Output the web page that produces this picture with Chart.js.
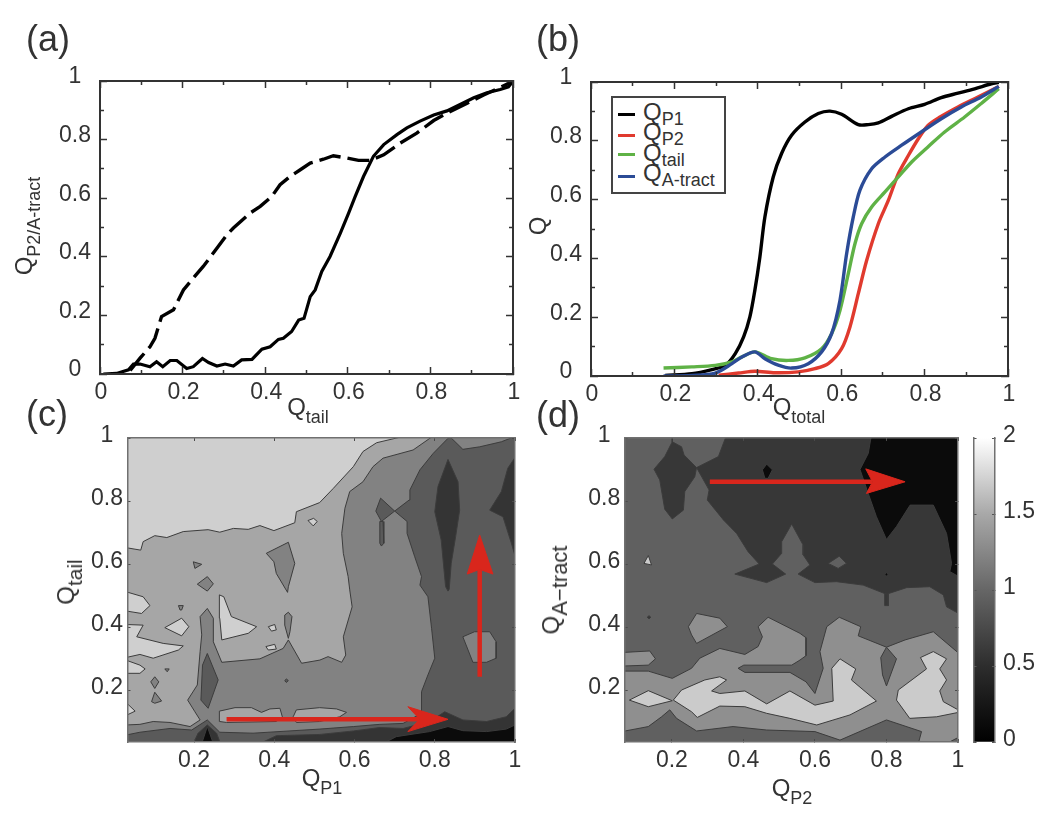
<!DOCTYPE html>
<html>
<head>
<meta charset="utf-8">
<title>Contact order plots</title>
<script src="https://cdn.jsdelivr.net/npm/chart.js@4"></script>
<style>
  html, body { margin: 0; padding: 0; background: #fff; }
  #page { position: relative; width: 1050px; height: 819px; overflow: hidden; font-family: "Liberation Sans", sans-serif; color: #333; filter: blur(0.5px); }
  canvas { position: absolute; left: 0; top: 0; }
  .t { position: absolute; transform: translate(-50%, -50%); font-size: 24px; line-height: 1; white-space: nowrap; }
  .rot { transform: translate(-50%, -50%) rotate(-90deg); }
  .t sub { font-size: 18px; line-height: 0; vertical-align: -8px; }
  .t sub.wide { font-size: 22px; }
  .t sub.mid { font-size: 21px; }
  .panel { position: absolute; font-size: 36px; line-height: 1; }
  #legend { position: absolute; left: 611px; top: 96px; width: 111px; height: 94px; border: 2px solid #444; background: #fff; }
  #legend .t { transform: none; left: 30px; }
  #legend sub { vertical-align: -5px; }
  .sw { position: absolute; left: 5px; width: 17px; height: 3px; }
</style>
</head>
<body>
<div id="page">
  <canvas id="chartC" width="1050" height="819"></canvas>
  <canvas id="chartD" width="1050" height="819"></canvas>
  <canvas id="chartBar" width="1050" height="819"></canvas>
  <canvas id="chartA" width="1050" height="819"></canvas>
  <canvas id="chartB" width="1050" height="819"></canvas>

  <div class="panel" style="left:26px;top:21px">(a)</div>
  <div class="panel" style="left:536px;top:21px">(b)</div>
  <div class="panel" style="left:26px;top:396px">(c)</div>
  <div class="panel" style="left:536px;top:397px">(d)</div>

  <div class="t" style="left:308px;top:407px">Q<sub>tail</sub></div>
  <div class="t" style="left:799px;top:407px">Q<sub>total</sub></div>
  <div class="t" style="left:322px;top:778px">Q<sub>P1</sub></div>
  <div class="t" style="left:792px;top:788px">Q<sub>P2</sub></div>
  <div class="t rot" style="left:24px;top:226px">Q<sub>P2/A-tract</sub></div>
  <div class="t rot" style="left:538px;top:226px">Q</div>
  <div class="t rot" style="left:66px;top:582px">Q<sub class="mid">tail</sub></div>
  <div class="t rot" style="left:551px;top:590px">Q<sub class="wide">A&#8722;tract</sub></div>

  <div id="legend">
    <div class="sw" style="top:15px;background:#000"></div>
    <div class="sw" style="top:36px;background:#e03a2e"></div>
    <div class="sw" style="top:55px;background:#5fb246"></div>
    <div class="sw" style="top:77px;background:#2b4b96"></div>
    <div class="t" style="top:2px">Q<sub>P1</sub></div>
    <div class="t" style="top:22px">Q<sub>P2</sub></div>
    <div class="t" style="top:43px">Q<sub>tail</sub></div>
    <div class="t" style="top:63px">Q<sub>A-tract</sub></div>
  </div>
</div>

<script>
// panel (a)
const aSolidX = [.008,.04,.069,.081,.097,.121,.137,.152,.17,.186,.21,.226,.248,.263,.283,.303,.323,.343,.368,.392,.412,.432,.444,.464,.481,.494,.509,.521,.537,.557,.582,.602,.618,.638,.662,.687,.719,.743,.775,.808,.84,.872,.905,.937,.969,.989,1];
const aSolidY = [0,.002,.014,.034,.034,.025,.042,.025,.046,.046,.019,.025,.053,.039,.027,.034,.027,.048,.05,.085,.093,.118,.122,.145,.184,.19,.264,.287,.35,.401,.481,.549,.606,.674,.743,.783,.817,.84,.863,.884,.898,.92,.943,.96,.971,.98,.999];
const aDashedX = [.073,.097,.121,.133,.149,.178,.202,.222,.25,.283,.307,.323,.363,.388,.416,.436,.46,.485,.509,.541,.565,.598,.626,.654,.687,.727,.767,.808,.84,.889,.929,.969,1];
const aDashedY = [.012,.054,.093,.122,.196,.219,.287,.321,.367,.429,.475,.498,.549,.572,.606,.646,.674,.697,.72,.733,.745,.737,.729,.729,.748,.788,.822,.865,.89,.924,.952,.978,.999];

// panel (b)
const bP1X = [.178,.242,.29,.322,.346,.366,.381,.393,.405,.417,.437,.457,.481,.513,.545,.573,.601,.641,.665,.689,.721,.761,.8,.84,.88,.92,.96,.978];
const bP1Y = [.002,.008,.022,.036,.076,.133,.201,.292,.405,.541,.677,.757,.819,.864,.893,.901,.89,.855,.855,.861,.883,.909,.924,.947,.962,.977,.994,.999];
const bP2X = [.306,.354,.393,.441,.497,.537,.569,.601,.621,.641,.661,.689,.713,.737,.761,.785,.808,.836,.88,.928,.978];
const bP2Y = [.003,.01,.016,.011,.014,.025,.042,.093,.167,.28,.393,.518,.597,.688,.75,.807,.852,.88,.915,.949,.985];
const bTailX = [.174,.242,.298,.338,.362,.393,.433,.473,.513,.553,.577,.597,.617,.633,.649,.673,.705,.737,.769,.808,.848,.896,.936,.978];
const bTailY = [.027,.031,.036,.048,.065,.082,.059,.053,.062,.093,.144,.223,.348,.45,.518,.575,.626,.677,.728,.779,.83,.881,.927,.977];
const bTractX = [.174,.242,.298,.338,.362,.393,.417,.449,.481,.521,.553,.577,.597,.613,.629,.645,.673,.705,.745,.792,.84,.888,.936,.978];
const bTractY = [0,.002,.01,.042,.065,.082,.059,.037,.027,.042,.082,.144,.257,.416,.541,.632,.705,.745,.785,.83,.875,.915,.949,.985];

// ticks
const fullTicks = [0,.2,.4,.6,.8,1];
const minorTicks = [.1,.3,.5,.7,.9];
const mapTicks = [.2,.4,.6,.8,1];
const barTicks = [0,.5,1,1.5,2];

// contour bands, darkest to lightest
const cGreys = ['#0b0b0b','#343434','#5a5a5a','#828282','#a6a6a6','#cfcfcf'];
const dGreys = ['#0b0b0b','#373737','#606060','#8f8f8f','#a6a6a6','#cbcbcb'];

// panel (c) contours: [band, x,y,x,y...], painted in this order
const cContours = [
  [2, .03,.03, 1,.03, 1,1, .03,1],
  [1, .364,.03, .405,.055, .5135,.059, .597,.07, .663,.081, .721,.078, .787,.1, .825,.131, .87,.105, .929,.1, .978,.115, 1,.142, 1,.03],
  [1, .198,.03, .21,.063, .233,.089, .256,.063, .266,.03],
  [0, .671,.03, .704,.052, .787,.068, .833,.084, .87,.071, .929,.068, .978,.076, 1,.089, 1,.03],
  [0, .219,.03, .233,.084, .248,.03],
  [3, .03,.057, .065,.066, .14,.078, .194,.073, .233,.105, .264,.066, .347,.063, .513,.076, .597,.084, .663,.091, .721,.094, .767,.126, .767,.195, .783,.248, .8,.301, .792,.396, .783,.496, .763,.533, .767,.56, .75,.623, .731,.697, .731,.735, .7,.768, .736,.803, .738,.835, .763,.899, .796,.951, .833,.999, .833,1.01, .03,1.01],
  [4, .03,1.01, .8,1.01, .746,.962, .671,.936, .646,.909, .621,.861, .588,.83, .576,.777, .568,.697, .572,.634, .584,.56, .588,.518, .594,.464, .572,.369, .578,.311, .568,.288, .534,.306, .5135,.295, .468,.285, .435,.359, .422,.332, .364,.299, .269,.288, .248,.353, .248,.428, .233,.459, .215,.433, .219,.375, .215,.322, .208,.216, .184,.168, .202,.131, .215,.105, .19,.084, .14,.097, .098,.1, .065,.091, .03,.089],
  [5, .03,1.01, .738,1.01, .655,.985, .621,.957, .597,.909, .547,.84, .513,.795, .455,.766, .451,.731, .399,.706, .364,.722, .335,.71, .298,.713, .264,.701, .235,.709, .173,.703, .132,.684, .102,.69, .073,.671, .067,.644, .03,.652],
  [5, .03,.512, .073,.496, .09,.468, .069,.443, .03,.451],
  [5, .127,.398, .169,.428, .187,.401, .169,.372],
  [5, .03,.408, .073,.406, .057,.369, .123,.348, .173,.34, .161,.327, .098,.301, .065,.313, .03,.303],
  [5, .03,.295, .065,.279, .078,.267, .065,.253, .03,.253],
  [5, .03,.161, .053,.133, .03,.119],
  [5, .263,.502, .274,.496, .293,.433, .356,.401, .335,.38, .269,.359, .264,.428],
  [5, .385,.401, .401,.408, .405,.391, .393,.387],
  [5, .379,.338, .401,.345, .405,.33, .385,.327],
  [5, .484,.738, .498,.745, .507,.735, .497,.721],
  [3, .161,.468, .173,.468, .169,.454, .165,.454],
  [3, .092,.226, .102,.242, .112,.226, .102,.205],
  [3, .094,.163, .102,.193, .119,.165, .102,.158],
  [3, .127,.267, .138,.267, .133,.258],
  [3, .426,.438, .435,.447, .444,.433, .439,.385, .435,.364, .426,.406],
  [3, .38,.634, .435,.669, .451,.602, .435,.528, .433,.51, .405,.57, .399,.607],
  [3, .208,.536, .233,.56, .248,.537, .233,.514],
  [3, .198,.607, .219,.599, .202,.586],
  [2, .233,.316, .26,.232, .235,.142, .217,.168, .221,.279],
  [2, .43,.235, .435,.23, .43,.224, .426,.23],
  [2, .665,.809, .7,.768, .667,.735, .653,.768],
  [2, .663,.735, .671,.735, .673,.666, .667,.657, .663,.666],
  [1, .833,.932, .858,.861, .862,.771, .852,.687, .841,.602, .836,.52, .833,.514, .827,.528, .816,.676, .8,.766, .808,.846],
  [1, 1.01,.957, .982,.904, .966,.83, .937,.771, .97,.75, .991,.666, 1.01,.581],
  [3, .833,1.01, .87,.964, .912,.972, .966,.988, 1.01,1.01],
  [3, .87,.369, .899,.385, .937,.385, .953,.353, .953,.301, .929,.288, .895,.288, .883,.327],
  [4, .263,.133, .302,.144, .343,.144, .368,.129, .389,.14, .414,.142, .42,.115, .405,.1, .281,.097, .264,.1],
  [4, .447,.115, .455,.137, .513,.144, .555,.14, .58,.129, .563,.115, .513,.1, .455,.097]
];

// panel (d) contours
const dContours = [
  [2, .06,.03, 1.01,.03, 1.01,1.01, .06,1.01],
  [1, .353,1.01, .33,.941, .269,.906, .304,.835, .299,.803, .344,.74, .381,.697, .413,.639, .444,.6, .376,.568, .465,.541, .518,.568, .481,.6, .507,.634, .507,.671, .535,.727, .567,.66, .567,.629, .586,.597, .553,.568, .6,.541, .66,.544, .735,.533, .8,.504, .856,.525, .921,.528, .959,.502, .968,.464, 1.01,.438, 1.01,1.01],
  [1, .201,1.01, .201,.988, .227,.972, .234,.946, .269,.906, .264,.877, .236,.83, .232,.771, .201,.743, .18,.774, .166,.867, .15,.901, .18,.941, .201,.988],
  [1, .795,.505, .805,.505, .805,.468, .795,.468],
  [0, .758,1.01, .749,.951, .726,.9, .749,.824, .772,.75, .8,.678, .828,.719, .866,.787, .931,.787, .968,.697, .982,.602, .977,.576, 1.01,.555, 1.01,1.01],
  [0, .465,.917, .481,.899, .469,.872, .46,.872, .453,.899],
  [0, .8,.572, .805,.567, .8,.562, .795,.567],
  [1, .136,.436, .141,.431, .136,.426, .131,.431],
  [2, .637,.602, .668,.625, .688,.602, .665,.586],
  [5, .134,.627, .143,.597, .122,.602],
  [3, .06,.26, .134,.26, .201,.237, .255,.269, .278,.301, .334,.332, .404,.313, .441,.338, .453,.369, .441,.401, .469,.431, .558,.38, .575,.366, .575,.309, .558,.295, .535,.279, .401,.279, .385,.269, .404,.256, .53,.256, .575,.226, .6,.189, .623,.269, .614,.322, .633,.401, .668,.431, .728,.401, .721,.372, .8,.336, .852,.359, .931,.385, 1.01,.309, 1.01,.055, .968,.03, .889,.03, .898,.068, .8,.105, .67,.041, .6,.068, .465,.073, .371,.084, .269,.07, .213,.11, .194,.137, .171,.115, .134,.084, .06,.068],
  [3, .246,.401, .269,.443, .334,.428, .355,.401, .269,.348, .255,.375],
  [3, .06,.319, .138,.324, .154,.299, .134,.279, .06,.276],
  [2, .8,.336, .828,.299, .8,.213, .789,.248, .784,.303],
  [5, .081,.168, .134,.198, .201,.166, .134,.147],
  [5, .204,.168, .227,.2, .292,.232, .334,.242, .353,.232, .311,.197, .334,.189, .404,.197, .465,.156, .53,.197, .6,.152, .651,.165, .647,.269, .67,.299, .714,.267, .702,.232, .772,.165, .698,.121, .605,.089, .53,.11, .465,.126, .404,.147, .334,.149, .271,.113, .255,.131],
  [5, .828,.168, .833,.2, .912,.267, .895,.303, .931,.322, .968,.299, .949,.267, .968,.232, .949,.197, .959,.163, 1.01,.131, .94,.115, .865,.11]
];

// red arrows: shaft end points and head outlines
const cArrowAcrossX = [.281,.7625];
const cArrowAcrossY = [.107,.107];
const cArrowAcrossHead = [.733,.147, .833,.107, .733,.068, .7625,.107];
const cArrowUpX = [.912,.912];
const cArrowUpY = [.2424,.583];
const cArrowUpHead = [.912,.692, .945,.568, .912,.583, .881,.568];
const dArrowX = [.306,.761];
const dArrowY = [.861,.861];
const dArrowHead = [.742,.902, .852,.861, .744,.824, .761,.861];

function zip(xs, ys) {
  return xs.map((x, i) => ({ x, y: ys[i] }));
}

function pairs(flat) {
  const pts = [];
  for (let i = 0; i < flat.length; i += 2) pts.push({ x: flat[i], y: flat[i + 1] });
  pts.push(pts[0]);
  return pts;
}

function polygon(flat, fillColor, lineColor) {
  return {
    data: pairs(flat),
    showLine: true,
    fill: 'shape',
    backgroundColor: fillColor,
    borderColor: lineColor,
    borderWidth: 1,
    pointRadius: 0,
    tension: 0
  };
}

function curve(xs, ys, color, width, dash, tension) {
  return {
    data: zip(xs, ys),
    showLine: true,
    fill: false,
    borderColor: color,
    borderWidth: width,
    borderDash: dash || [],
    borderCapStyle: 'butt',
    pointRadius: 0,
    tension: tension || 0
  };
}

// labels get clipped to the axis box, so labelled axes keep a fixed size and
// bare tick axes collapse to zero, sitting next to the plot
function axis(axisName, position, min, max, values, o) {
  return {
    type: 'linear',
    axis: axisName,
    position,
    min,
    max,
    weight: o.label ? 10 : 0,
    afterBuildTicks: s => { s.ticks = values.map(v => ({ value: v })); },
    afterFit: s => {
      const size = o.label ? o.size : 0;
      if (axisName === 'x') s.height = size; else s.width = size;
    },
    border: { display: !!o.borderWidth, color: o.borderColor || o.color, width: o.borderWidth || 0, z: 1 },
    grid: { drawOnChartArea: false, drawTicks: true, tickLength: -o.len, tickWidth: o.tickWidth, tickColor: o.color, z: 1 },
    ticks: {
      display: !!o.label,
      autoSkip: false,
      maxRotation: 0,
      minRotation: 0,
      color: '#333',
      font: { family: '"Liberation Sans"', size: 23 },
      padding: (o.pad || 0) + o.len,
      labelOffset: o.offset || 0,
      crossAlign: o.cross || 'near',
      callback: v => String(v)
    }
  };
}

const xBox = 40;
const yBox = 70;
const barBox = 45;

function frameScales(xMin, xMax, yMin, yMax, xMajor, yMajor, st) {
  const scales = {
    x: axis('x', 'bottom', xMin, xMax, xMajor, { ...st, label: true, size: xBox, pad: st.xPad, offset: st.xOffset }),
    y: axis('y', 'left', yMin, yMax, yMajor, { ...st, label: true, size: yBox, pad: st.yPad, offset: st.yOffset, cross: st.yCross }),
    xTop: axis('x', 'top', xMin, xMax, xMajor, st),
    yRight: axis('y', 'right', yMin, yMax, yMajor, st)
  };
  if (st.minor) {
    const m = { color: st.color, len: st.minorLen, tickWidth: st.tickWidth };
    scales.xMinor = axis('x', 'bottom', xMin, xMax, st.minor, m);
    scales.xMinorTop = axis('x', 'top', xMin, xMax, st.minor, m);
    scales.yMinor = axis('y', 'left', yMin, yMax, st.minor, m);
    scales.yMinorRight = axis('y', 'right', yMin, yMax, st.minor, m);
  }
  return scales;
}

function plot(id, padding, datasets, scales, type, labels) {
  // later datasets paint on top
  datasets.forEach((d, i) => { d.order = datasets.length - i; });
  return new Chart(document.getElementById(id), {
    type: type || 'scatter',
    data: { labels, datasets },
    options: {
      responsive: false,
      animation: false,
      events: [],
      layout: { padding },
      plugins: { legend: { display: false }, tooltip: { enabled: false } },
      scales
    }
  });
}

function framePadding(left, top, right, bottom) {
  return { left: left - yBox, top, right: 1050 - right, bottom: 819 - bottom - xBox };
}

const lineStyle = { color: '#333', borderWidth: 2, len: 7, tickWidth: 1.5, minor: minorTicks, minorLen: 4, xPad: 5, yPad: 9, xOffset: 1, yOffset: -4, yCross: 'center' };
const mapStyle = { color: '#4a4a4a', borderColor: '#707070', borderWidth: 1.5, len: 3, tickWidth: 1, xPad: 5, yPad: 4.5, xOffset: 0, yOffset: -2, yCross: 'center' };

plot('chartA', framePadding(100, 81, 513, 374), [
  curve(aDashedX, aDashedY, '#000', 3.4, [22, 7]),
  curve(aSolidX, aSolidY, '#000', 3.2)
], frameScales(0, 1, 0, 1, fullTicks, fullTicks, lineStyle));

plot('chartB', framePadding(591, 82, 1008, 376), [
  curve(bP1X, bP1Y, '#000', 3.4, null, .3),
  curve(bP2X, bP2Y, '#e03a2e', 3.4, null, .3),
  curve(bTailX, bTailY, '#5fb246', 3.4, null, .3),
  curve(bTractX, bTractY, '#2b4b96', 3.4, null, .3)
], frameScales(0, 1, 0, 1, fullTicks, fullTicks, lineStyle));

const contourLine = '#3c3c3c';
const arrowRed = '#d9261c';

plot('chartC', framePadding(127.5, 438, 515, 742), [
  ...cContours.map(c => polygon(c.slice(1), cGreys[c[0]], contourLine)),
  curve(cArrowAcrossX, cArrowAcrossY, arrowRed, 4.5),
  polygon(cArrowAcrossHead, arrowRed, arrowRed),
  curve(cArrowUpX, cArrowUpY, arrowRed, 4.5),
  polygon(cArrowUpHead, arrowRed, arrowRed)
], frameScales(.034, 1, .035, 1, mapTicks, mapTicks, mapStyle));

plot('chartD', framePadding(624.7, 438, 958, 742), [
  ...dContours.map(c => polygon(c.slice(1), dGreys[c[0]], contourLine)),
  curve(dArrowX, dArrowY, arrowRed, 4.5),
  polygon(dArrowHead, arrowRed, arrowRed)
], frameScales(.068, 1, .035, 1, mapTicks, mapTicks, mapStyle));

// colour bar
const barStyle = { color: '#555', borderColor: '#707070', borderWidth: 1.5, len: 3, tickWidth: 1 };
const barRange = [[0, 2]];
plot('chartBar', { left: 973.5, top: 438, right: 1050 - 995 - barBox, bottom: 819 - 742 }, [{
  data: barRange,
  barPercentage: 1,
  categoryPercentage: 1,
  backgroundColor: ctx => {
    const area = ctx.chart.chartArea;
    if (!area) return '#777';
    const g = ctx.chart.ctx.createLinearGradient(0, area.bottom, 0, area.top);
    g.addColorStop(0, '#000');
    g.addColorStop(.25, '#2d2d2d');
    g.addColorStop(.5, '#666');
    g.addColorStop(.75, '#a8a8a8');
    g.addColorStop(1, '#fff');
    return g;
  }
}], {
  x: { type: 'category', display: false },
  y: axis('y', 'right', 0, 2, barTicks, { ...barStyle, label: true, size: barBox, pad: 8, offset: -2 }),
  yLeft: axis('y', 'left', 0, 2, barTicks, barStyle)
}, 'bar', ['']);
</script>
</body>
</html>
